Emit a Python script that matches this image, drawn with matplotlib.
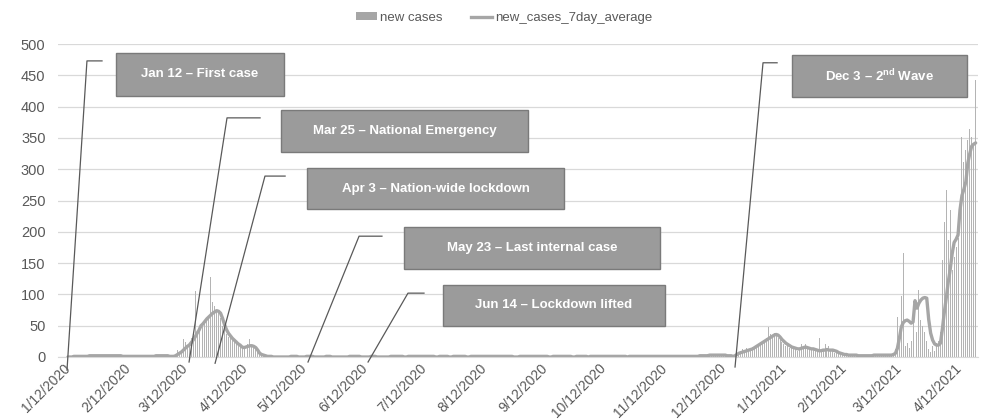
import numpy as np
import pandas as pd
import matplotlib
matplotlib.use("Agg")
import matplotlib.pyplot as plt
import matplotlib.dates as mdates
import matplotlib.transforms as mtransforms
from matplotlib.patches import Rectangle, Patch
from matplotlib.lines import Line2D

plt.rcParams["font.family"] = ["Liberation Sans", "DejaVu Sans"]
plt.rcParams["mathtext.fontset"] = "custom"
plt.rcParams["mathtext.bf"] = "Liberation Sans:bold"
plt.rcParams["mathtext.rm"] = "Liberation Sans"

# ---- daily new cases, one list per month (2020-01-12 .. 2021-04-20) ----
cases_2020_01 = [1, 0, 0, 1, 0, 1, 2, 1, 2, 1, 0, 1, 2, 1, 0, 2, 1, 1, 2, 1]
cases_2020_02 = [3, 2, 2, 3, 1, 2, 2, 1, 0, 1, 1, 0, 1, 0, 2, 0, 1, 0, 1, 0,
                 0, 1, 2, 1, 1, 3, 2, 1, 2]
cases_2020_03 = [1, 0, 1, 2, 0, 1, 3, 11, 4, 8, 29, 24, 15, 22, 30, 34, 105, 38,
                 44, 48, 52, 56, 62, 65, 127, 88, 82, 72, 70, 62, 50]
cases_2020_04 = [45, 36, 32, 30, 27, 25, 22, 20, 18, 16, 15, 14, 20, 29, 18, 15,
                 12, 9, 7, 5, 4, 3, 2, 2, 1, 1, 0, 1, 0, 0]
cases_2020_05 = [0, 1, 0, 0, 2, 0, 1, 0, 0, 1, 0, 0, 2, 1, 0, 0, 1, 0, 0, 0,
                 1, 0, 2, 0, 0, 1, 0, 0, 1, 0, 0]
cases_2020_06 = [0, 0, 1, 0, 2, 1, 0, 0, 0, 1, 0, 0, 0, 2, 0, 1, 0, 0, 1, 0,
                 0, 0, 1, 0, 0, 3, 0, 0, 1, 0]
cases_2020_07 = [0, 1, 2, 0, 0, 1, 0, 0, 3, 0, 1, 0, 0, 2, 0, 1, 0, 0, 1, 0,
                 2, 0, 0, 1, 0, 0, 1, 2, 0, 0, 1]
cases_2020_08 = [0, 0, 1, 0, 2, 0, 0, 1, 1, 0, 0, 2, 0, 0, 1, 0, 3, 0, 0, 1,
                 0, 0, 1, 2, 0, 0, 0, 1, 0, 1, 0]
cases_2020_09 = [1, 0, 0, 2, 0, 1, 0, 0, 1, 0, 2, 0, 1, 0, 0, 0, 1, 3, 0, 0,
                 1, 0, 0, 2, 0, 0, 1, 0, 1, 0]
cases_2020_10 = [0, 2, 0, 1, 0, 0, 1, 0, 2, 1, 0, 0, 1, 0, 3, 0, 0, 1, 0, 2,
                 0, 1, 0, 0, 1, 0, 2, 0, 0, 1, 0]
cases_2020_11 = [1, 0, 2, 0, 0, 1, 3, 0, 1, 0, 0, 2, 0, 1, 0, 0, 1, 2, 0, 0,
                 1, 0, 3, 0, 1, 0, 2, 1, 0, 1]
cases_2020_12 = [2, 3, 1, 4, 3, 5, 2, 4, 3, 2, 4, 3, 1, 2, 1, 0, 1, 4, 6, 8,
                 10, 12, 9, 14, 13, 11, 16, 15, 18, 20, 24]
cases_2021_01 = [22, 26, 30, 48, 37, 33, 38, 35, 30, 32, 24, 20, 18, 22, 15, 17,
                 12, 14, 10, 12, 21, 18, 20, 14, 12, 15, 11, 13, 9, 30, 8]
cases_2021_02 = [10, 21, 12, 18, 9, 11, 7, 8, 6, 5, 4, 5, 3, 4, 2, 3, 3, 4, 2, 2,
                 3, 1, 2, 3, 2, 2, 3, 4]
cases_2021_03 = [3, 2, 4, 3, 2, 4, 3, 5, 6, 12, 64, 20, 98, 166, 18, 22, 15, 25,
                 70, 352, 40, 107, 59, 50, 40, 25, 12, 8, 18, 10, 22]
cases_2021_04 = [25, 40, 155, 216, 267, 187, 235, 139, 160, 176, 190, 408, 352,
                 312, 331, 347, 365, 352, 340, 442]

# ---- 7-day average of new cases, same months ----
avg_2020_01 = [0, 0, 0, 1, 1, 1, 1, 1, 1, 1, 1, 2, 2, 2, 2, 2, 2, 2, 2, 2]
avg_2020_02 = [2, 2, 2, 2, 2, 2, 2, 2, 1, 1, 1, 1, 1, 1, 1, 1, 1, 1, 1, 1,
               1, 1, 1, 1, 1, 2, 2, 2, 2]
avg_2020_03 = [2, 2, 2, 1, 1, 1, 2, 4, 6, 8, 11, 14, 17, 19, 23, 27, 32, 38,
               43, 50, 53, 57, 61, 64, 67, 70, 72, 74, 73, 70, 62]
avg_2020_04 = [52, 44, 38, 34, 30, 27, 24, 21, 19, 16, 15, 16, 17, 18, 18, 17,
               15, 11, 6, 4, 3, 2, 1, 1, 1, 0, 0, 0, 0, 0]
avg_2020_05 = [0, 0, 0, 0, 1, 1, 1, 1, 0, 0, 0, 0, 1, 1, 1, 1, 0, 0, 0, 0,
               0, 0, 1, 1, 1, 0, 0, 0, 0, 0, 0]
avg_2020_06 = [0, 0, 0, 1, 1, 1, 1, 1, 1, 0, 0, 0, 0, 0, 1, 1, 1, 0, 0, 0,
               0, 0, 0, 0, 1, 1, 1, 1, 1, 1]
avg_2020_07 = [1, 0, 0, 1, 1, 1, 1, 1, 1, 1, 1, 1, 1, 1, 1, 1, 1, 0, 0, 1,
               1, 1, 1, 1, 0, 0, 1, 1, 1, 1, 1]
avg_2020_08 = [1, 1, 0, 0, 1, 1, 1, 1, 1, 1, 1, 1, 1, 1, 1, 1, 1, 1, 1, 1,
               1, 1, 1, 1, 1, 1, 0, 0, 0, 1, 1]
avg_2020_09 = [1, 1, 1, 1, 1, 1, 1, 1, 1, 1, 1, 1, 1, 0, 0, 1, 1, 1, 1, 1,
               1, 1, 1, 1, 1, 0, 0, 1, 1, 1]
avg_2020_10 = [1, 1, 1, 0, 1, 1, 1, 1, 1, 1, 1, 1, 1, 1, 1, 1, 1, 1, 1, 1,
               1, 1, 1, 0, 1, 1, 1, 1, 1, 1, 1]
avg_2020_11 = [1, 1, 1, 1, 1, 1, 1, 1, 1, 1, 1, 1, 1, 1, 1, 1, 1, 1, 1, 1,
               1, 1, 1, 1, 1, 1, 1, 1, 1, 2]
avg_2020_12 = [2, 2, 2, 2, 3, 3, 3, 3, 3, 3, 3, 3, 3, 2, 2, 2, 1, 2, 4, 6,
               7, 8, 9, 10, 11, 12, 13, 15, 17, 19, 21]
avg_2021_01 = [23, 25, 27, 29, 31, 33, 35, 36, 35, 32, 28, 25, 22, 20, 18, 16,
               15, 14, 13, 13, 14, 15, 16, 15, 14, 13, 13, 12, 11, 10, 10]
avg_2021_02 = [11, 11, 12, 11, 11, 11, 10, 9, 7, 6, 5, 4, 4, 3, 3, 3, 3, 3, 2, 2,
               2, 2, 2, 2, 2, 2, 3, 3]
avg_2021_03 = [3, 3, 3, 3, 3, 3, 3, 3, 4, 6, 14, 30, 48, 55, 58, 59, 57, 54,
               56, 90, 78, 86, 91, 94, 95, 94, 60, 38, 27, 21, 19]
avg_2021_04 = [19, 22, 45, 72, 95, 120, 140, 165, 183, 188, 195, 235, 258, 268,
               280, 310, 325, 337, 340, 342]

tick_labels = ["1/12/2020", "2/12/2020", "3/12/2020", "4/12/2020", "5/12/2020",
               "6/12/2020", "7/12/2020", "8/12/2020", "9/12/2020", "10/12/2020",
               "11/12/2020", "12/12/2020", "1/12/2021", "2/12/2021", "3/12/2021",
               "4/12/2021"]

new_cases = np.concatenate([cases_2020_01, cases_2020_02, cases_2020_03, cases_2020_04,
                            cases_2020_05, cases_2020_06, cases_2020_07, cases_2020_08,
                            cases_2020_09, cases_2020_10, cases_2020_11, cases_2020_12,
                            cases_2021_01, cases_2021_02, cases_2021_03, cases_2021_04])
avg_7day = np.concatenate([avg_2020_01, avg_2020_02, avg_2020_03, avg_2020_04,
                           avg_2020_05, avg_2020_06, avg_2020_07, avg_2020_08,
                           avg_2020_09, avg_2020_10, avg_2020_11, avg_2020_12,
                           avg_2021_01, avg_2021_02, avg_2021_03, avg_2021_04])
dates = pd.date_range("2020-01-12", periods=len(new_cases), freq="D")

# ---- event call-outs: text, leader (day offset, value) points, box extent ----
events = [
    ("Jan 12 \u2013 First case", [(-0.5, -21), (9.7, 473), (17.4, 473)], (24.5, 110.4), (417, 486)),
    ("Mar 25 \u2013 National Emergency", [(61.9, -8), (81.3, 382), (98.2, 382)], (108.9, 235.2), (327, 395)),
    ("Apr 3 \u2013 Nation-wide lockdown", [(75.2, -10), (100.7, 289), (111, 289)], (122.2, 253.6), (236, 302)),
    ("May 23 \u2013 Last internal case", [(122.7, -8), (148.8, 193), (160.5, 193)], (171.8, 302.7), (141, 208)),
    ("Jun 14 \u2013 Lockdown lifted", [(153.4, -8), (173.8, 102), (182, 102)], (191.7, 305.2), (50, 115)),
    ("Dec 3 \u2013 2$^{\\mathbf{nd}}$ Wave", [(341, -16), (355.3, 470), (362.5, 470)], (370.1, 459.6), (415, 482)),
]

W, H = 981, 420
fig = plt.figure(figsize=(W / 100, H / 100), dpi=100)
ax = fig.add_axes([58 / W, 1 - 357 / H, 920 / W, 313 / H])

bar_color = "#b4b4b4"
line_color = "#a6a6a6"
text_color = "#595959"

ax.bar(dates, new_cases, width=0.5, color=bar_color, zorder=2)
ax.plot(dates, avg_7day, color=line_color, lw=2.4, zorder=3, solid_capstyle="round")

x0 = mdates.date2num(dates[0])
ax.set_xlim(x0 - 5.1, x0 + 465.2)
ax.set_ylim(0, 500)
ax.set_yticks(np.arange(0, 501, 50))
ax.yaxis.grid(True, color="#d9d9d9", lw=0.9, zorder=0)
ax.set_axisbelow(True)
for s in ["top", "right", "left"]:
    ax.spines[s].set_visible(False)
ax.spines["bottom"].set_color("#d9d9d9")
ax.tick_params(axis="y", length=0, colors=text_color, labelsize=10.5, pad=9)
ax.tick_params(axis="x", length=0, colors=text_color, labelsize=10, pad=3)

tick_dates = [pd.Timestamp(f"{lab.split('/')[2]}-{lab.split('/')[0]}-12") for lab in tick_labels]
ax.set_xticks(tick_dates)
ax.set_xticklabels(tick_labels, rotation=45, ha="right", va="top", rotation_mode="anchor")
shift = mtransforms.ScaledTranslation(-0.05, 0, fig.dpi_scale_trans)
for lab in ax.get_xticklabels():
    lab.set_transform(lab.get_transform() + shift)

for text, leader, (bx0, bx1), (by0, by1) in events:
    lx = [x0 + p[0] for p in leader]
    ly = [p[1] for p in leader]
    ax.plot(lx, ly, color=text_color, lw=0.9, clip_on=False, zorder=4)
    ax.add_patch(Rectangle((x0 + bx0, by0), bx1 - bx0, by1 - by0, facecolor="#9b9b9b",
                           edgecolor="#7a7a7a", lw=1.0, zorder=5, clip_on=False))
    ax.text(x0 + (bx0 + bx1) / 2, (by0 + by1) / 2, text, color="white", fontweight="bold",
            fontsize=9.5, ha="center", va="center", zorder=6)

handles = [Patch(facecolor="#a6a6a6", edgecolor="none"),
           Line2D([0], [0], color=line_color, lw=2.4)]
fig.legend(handles, ["new cases", "new_cases_7day_average"], loc="upper center",
           bbox_to_anchor=(0.514, 1.0), ncol=2, frameon=False, fontsize=9.5,
           handlelength=1.6, handleheight=0.5, handletextpad=0.2, columnspacing=2.2,
           labelcolor=text_color)

fig.savefig("out.png", dpi=100)
